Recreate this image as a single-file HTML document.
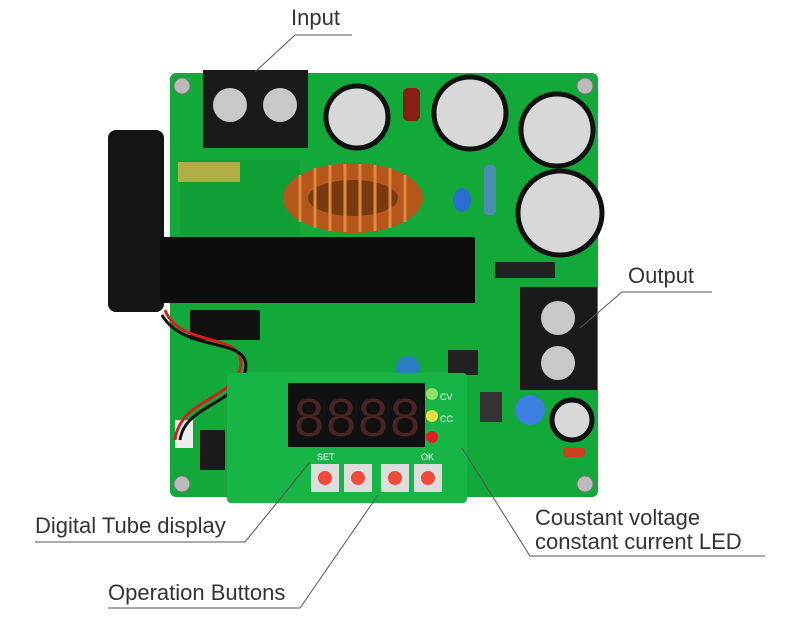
<!DOCTYPE html>
<html><head><style>
body{margin:0;background:#fff;width:800px;height:618px;overflow:hidden;position:relative;font-family:"Liberation Sans",sans-serif}
.t{position:absolute;font-size:22px;color:#333;line-height:24px;white-space:nowrap}
</style></head><body>
<svg width="800" height="618" style="position:absolute;left:0;top:0">
<rect x="170" y="73" width="428" height="424" rx="6" fill="#12a83a"/>
<rect x="180" y="160" width="120" height="75" fill="#0f9a34" opacity=".6"/>
<g fill="#bbb" stroke="#777"><circle cx="182" cy="86" r="8"/><circle cx="585" cy="86" r="8"/><circle cx="182" cy="484" r="8"/><circle cx="585" cy="484" r="8"/></g>
<rect x="108" y="130" width="56" height="182" rx="8" fill="#151515"/>
<rect x="203" y="70" width="105" height="78" fill="#1a1a1a"/>
<circle cx="230" cy="105" r="17" fill="#c8c8c8"/><circle cx="280" cy="105" r="17" fill="#c8c8c8"/>
<g stroke="#111" stroke-width="5" fill="#d8d8d8">
<circle cx="357" cy="117" r="31"/><circle cx="470" cy="113" r="36"/><circle cx="557" cy="130" r="36"/><circle cx="560" cy="213" r="42"/><circle cx="572" cy="420" r="20"/></g>
<rect x="403" y="88" width="17" height="33" rx="5" fill="#8a1e14"/>
<rect x="178" y="162" width="62" height="20" fill="#d9b24a" opacity=".8"/>
<rect x="484" y="165" width="12" height="50" rx="4" fill="#4a8fb0"/>
<ellipse cx="462" cy="200" rx="9" ry="12" fill="#2a6fd0"/>
<ellipse cx="353" cy="198" rx="70" ry="35" fill="#b5571c"/>
<ellipse cx="353" cy="198" rx="45" ry="18" fill="#7a3a10"/>
<g stroke="#e08a40" stroke-width="3">
<line x1="300" y1="175" x2="300" y2="222"/><line x1="315" y1="168" x2="315" y2="228"/><line x1="330" y1="165" x2="330" y2="231"/><line x1="345" y1="164" x2="345" y2="232"/><line x1="360" y1="164" x2="360" y2="232"/><line x1="375" y1="165" x2="375" y2="231"/><line x1="390" y1="168" x2="390" y2="228"/><line x1="405" y1="175" x2="405" y2="222"/></g>
<rect x="160" y="237" width="315" height="66" fill="#0d0d0d"/>
<rect x="495" y="262" width="60" height="16" fill="#222"/>
<rect x="190" y="310" width="70" height="30" fill="#111"/>
<rect x="520" y="287" width="77" height="103" fill="#1a1a1a"/>
<circle cx="558" cy="318" r="17" fill="#c8c8c8"/><circle cx="558" cy="363" r="17" fill="#c8c8c8"/>
<circle cx="408" cy="368" r="12" fill="#2a7fc0"/>
<circle cx="530" cy="410" r="15" fill="#3b7fe0"/>
<rect x="480" y="392" width="22" height="30" fill="#333"/>
<rect x="448" y="350" width="30" height="25" fill="#222"/>
<rect x="563" y="447" width="22" height="10" rx="4" fill="#d04020"/>
<rect x="200" y="430" width="25" height="40" fill="#1a1a1a"/>
<rect x="175" y="420" width="18" height="28" fill="#eee"/>
<path d="M165 310 C180 350 250 330 240 370 C230 400 180 400 175 440" stroke="#d02020" stroke-width="3" fill="none"/>
<path d="M162 315 C185 355 255 335 245 372 C235 405 185 405 180 440" stroke="#111" stroke-width="3" fill="none"/>
<rect x="227" y="373" width="240" height="130" rx="4" fill="#17b545"/>
<rect x="288" y="383" width="137" height="64" fill="#111"/>
<g font-family="Liberation Sans" font-size="54" fill="#4a2424">
<text x="294" y="436">8</text><text x="326" y="436">8</text><text x="358" y="436">8</text><text x="390" y="436">8</text></g>
<circle cx="432" cy="394" r="6" fill="#8ee06a"/><circle cx="432" cy="416" r="6" fill="#e8e040"/><circle cx="432" cy="437" r="6" fill="#e02020"/>
<g fill="#ddd"><rect x="311" y="464" width="28" height="28"/><rect x="344" y="464" width="28" height="28"/><rect x="381" y="464" width="28" height="28"/><rect x="414" y="464" width="28" height="28"/></g>
<g fill="#f04a3a"><circle cx="325" cy="478" r="7"/><circle cx="358" cy="478" r="7"/><circle cx="395" cy="478" r="7"/><circle cx="428" cy="478" r="7"/></g>
<g fill="#fff" font-size="9"><text x="317" y="460">SET</text><text x="421" y="460">OK</text><text x="440" y="400">CV</text><text x="440" y="422">CC</text></g>
<g stroke="#555" stroke-width="1" fill="none">
<polyline points="352,35 295,35 255,72"/>
<polyline points="712,292 622,292 580,328"/>
<polyline points="35,542 245,542 310,462"/>
<polyline points="108,608 300,608 378,495"/>
<polyline points="765,556 530,556 462,448"/>
</g>
</svg>
<div class="t" style="left:291px;top:6px">Input</div>
<div class="t" style="left:628px;top:264px">Output</div>
<div class="t" style="left:35px;top:514px">Digital Tube display</div>
<div class="t" style="left:108px;top:581px">Operation Buttons</div>
<div class="t" style="left:535px;top:506px">Coustant voltage</div>
<div class="t" style="left:535px;top:530px">constant current LED</div>
</body></html>
